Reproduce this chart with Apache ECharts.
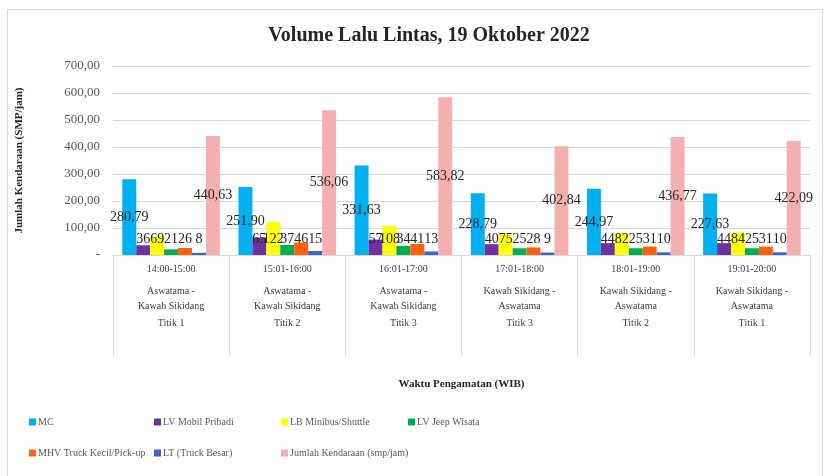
<!DOCTYPE html>
<html>
<head>
<meta charset="utf-8">
<script src="https://cdn.jsdelivr.net/npm/echarts@6/dist/echarts.min.js"></script>
<style>
  html, body { margin: 0; padding: 0; background: #fff; }
  #main { width: 826px; height: 476px; }
</style>
</head>
<body>
<div id="main"></div>
<script>
// kategori sumbu x (jam / arah / titik)
var waktu = ['14:00-15:00', '15:01-16:00', '16:01-17:00', '17:01-18:00', '18:01-19:00', '19:01-20:00'];
var arah = ['Aswatama -\nKawah Sikidang', 'Aswatama -\nKawah Sikidang', 'Aswatama -\nKawah Sikidang',
            'Kawah Sikidang -\nAswatama', 'Kawah Sikidang -\nAswatama', 'Kawah Sikidang -\nAswatama'];
var titik = ['Titik 1', 'Titik 2', 'Titik 3', 'Titik 3', 'Titik 2', 'Titik 1'];

// data volume (smp/jam)
var mc = [280.79, 251.90, 331.63, 228.79, 244.97, 227.63];
var lvPribadi = [36, 65, 57, 40, 44, 44];
var lbMinibus = [69, 122, 108, 75, 82, 84];
var lvJeep = [21, 37, 34, 25, 25, 25];
var mhv = [26, 46, 41, 28, 31, 31];
var lt = [8, 15, 13, 9, 10, 10];
var jumlah = [440.63, 536.06, 583.82, 402.84, 436.77, 422.09];

var yTicks = [0, 100, 200, 300, 400, 500, 600, 700];

var FONT = '"Liberation Serif", "DejaVu Serif", serif';

var kategori = waktu.map(function (w, i) {
  var r = arah[i].split('\n');
  return '{t|' + w + '}\n{r|' + r[0] + '}\n{r|' + r[1] + '}\n{p|' + titik[i] + '}';
});

function koma(v) { return v.toFixed(2).replace('.', ','); }

function seri(name, data, color, besar) {
  return {
    name: name,
    type: 'bar',
    data: data,
    barGap: '0%',
    barCategoryGap: '16%',
    itemStyle: { color: color },
    label: {
      show: true,
      position: besar ? 'inside' : 'insideBottom',
      distance: besar ? 5 : 9,
      color: '#262626',
      fontFamily: FONT,
      fontSize: 14,
      formatter: function (p) { return besar ? koma(p.value) : String(Math.round(p.value)); }
    }
  };
}

// posisi legenda, satu komponen per item
var legendNama = ['MC', 'LV Mobil Pribadi', 'LB Minibus/Shuttle', 'LV Jeep Wisata',
                  'MHV Truck Kecil/Pick-up', 'LT (Truck Besar)', 'Jumlah Kendaraan (smp/jam)'];
var legendX = [24, 149, 276, 403, 24, 149, 276];
var legendY = [412, 412, 412, 412, 443, 443, 443];

var legends = legendNama.map(function (n, i) {
  return {
    data: [n],
    left: legendX[i],
    top: legendY[i],
    itemWidth: 7,
    itemHeight: 7,
    itemGap: 0,
    icon: 'rect',
    textStyle: { fontFamily: FONT, fontSize: 10, color: '#595959', padding: [0, 0, 0, -3] }
  };
});

var myChart = echarts.init(document.getElementById('main'));

myChart.setOption({
  animation: false,
  backgroundColor: '#fff',
  graphic: [{
    type: 'rect',
    shape: { x: 7.5, y: 9.5, width: 815, height: 480 },
    style: { fill: 'none', stroke: '#d9d9d9', lineWidth: 1 },
    silent: true
  }],
  title: {
    text: 'Volume Lalu Lintas, 19 Oktober 2022',
    left: 424,
    textAlign: 'center',
    top: 21,
    textStyle: { fontFamily: FONT, fontSize: 20, fontWeight: 'bold', color: '#262626' }
  },
  legend: legends,
  grid: { left: 113, right: 16, top: 66, bottom: 221 },
  xAxis: {
    type: 'category',
    data: kategori,
    name: 'Waktu Pengamatan (WIB)',
    nameLocation: 'middle',
    nameGap: 124,
    nameTextStyle: { fontFamily: FONT, fontSize: 11, fontWeight: 'bold', color: '#262626' },
    axisLine: { lineStyle: { color: '#d9d9d9' } },
    axisTick: { show: true, length: 100, interval: 0, lineStyle: { color: '#d9d9d9' } },
    axisLabel: {
      interval: 0,
      margin: 0,
      color: '#404040',
      fontFamily: FONT,
      fontSize: 10,
      rich: {
        t: { lineHeight: 29, fontFamily: FONT, fontSize: 10, color: '#404040' },
        r: { lineHeight: 15, fontFamily: FONT, fontSize: 10, color: '#404040' },
        p: { lineHeight: 19, fontFamily: FONT, fontSize: 10, color: '#404040' }
      }
    }
  },
  yAxis: {
    type: 'value',
    min: yTicks[0],
    max: yTicks[yTicks.length - 1],
    interval: 100,
    name: 'Jumlah Kendaraan (SMP/jam)',
    nameLocation: 'middle',
    nameRotate: 90,
    nameGap: 88,
    nameTextStyle: { fontFamily: FONT, fontSize: 11, fontWeight: 'bold', color: '#262626' },
    axisLine: { show: false },
    axisTick: { show: false },
    splitLine: { lineStyle: { color: '#d9d9d9' } },
    axisLabel: {
      margin: 13,
      color: '#595959',
      fontFamily: FONT,
      fontSize: 13,
      formatter: function (v) { return v === 0 ? '-' : koma(v); }
    }
  },
  series: [
    seri('MC', mc, '#00b0f0', true),
    seri('LV Mobil Pribadi', lvPribadi, '#7030a0', false),
    seri('LB Minibus/Shuttle', lbMinibus, '#ffff00', false),
    seri('LV Jeep Wisata', lvJeep, '#00b050', false),
    seri('MHV Truck Kecil/Pick-up', mhv, '#ff6010', false),
    seri('LT (Truck Besar)', lt, '#3c64c8', false),
    seri('Jumlah Kendaraan (smp/jam)', jumlah, '#f4b0b0', true)
  ]
});
</script>
</body>
</html>
